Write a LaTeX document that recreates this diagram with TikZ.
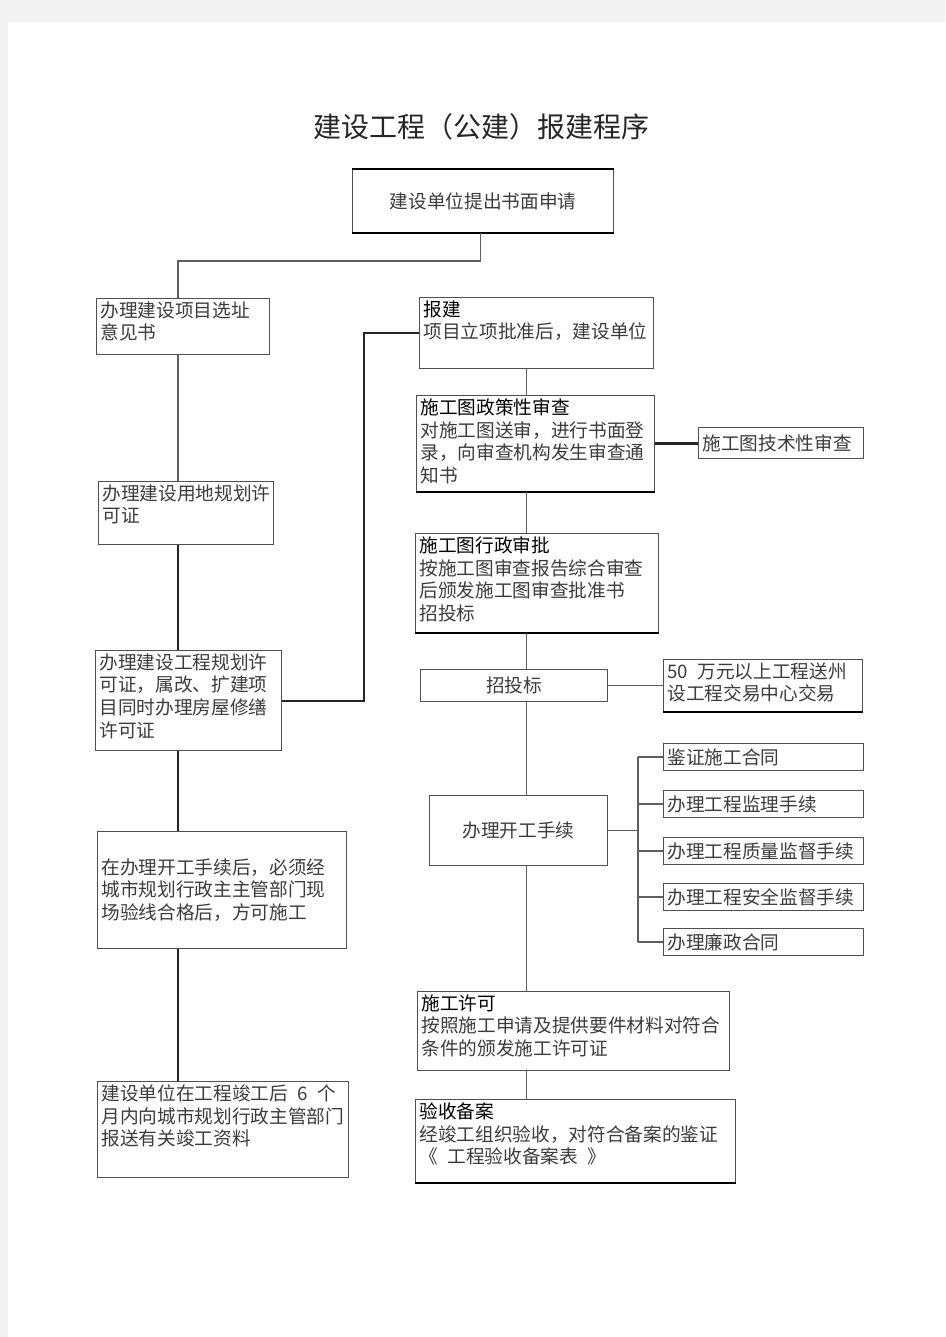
\documentclass[tikz,border=0pt]{standalone}
\usepackage{fontspec}
\setmainfont{Noto Sans CJK SC}
\usetikzlibrary{positioning,calc}
\definecolor{pagegrey}{RGB}{243,243,243}
\definecolor{rimgrey}{RGB}{80,80,80}
\definecolor{linkgrey}{RGB}{95,95,95}
\definecolor{bodygrey}{RGB}{60,60,60}
\newdimen\px \px=0.75pt
\newcommand{\cell}[3]{\parbox[c][\dimexpr#2\px-4.5pt\relax][t]{\dimexpr#1\px-6pt\relax}{\raggedright#3}}
\newcommand{\head}[1]{{\color{black}#1}\\}
\tikzset{
  ebox/.style={draw=rimgrey,line width=0.9pt,fill=white,anchor=north west,inner xsep=3pt,inner ysep=2.25pt,
    font=\fontsize{14pt}{17pt}\selectfont,text=bodygrey},
  cbox/.style 2 args={ebox,inner sep=0pt,minimum width=#1,minimum height=#2,align=center},
  lbox/.style 2 args={ebox,text width=#1,minimum height=#2,align=left},
  rim/.style={line width=1.6pt,draw=black},
  link/.style={line width=1.1pt,draw=linkgrey},
  heavy/.style={line width=1.9pt,draw=black!85},
  titlef/.style={font=\fontsize{21pt}{24pt}\selectfont,text=black!85}
}
\begin{document}
\begin{tikzpicture}[x=0.75pt,y=-0.75pt]
  \useasboundingbox (0,0) rectangle (945,1337);
  \fill[pagegrey] (0,0) rectangle (945,1337);
  \fill[white] (8,22) rectangle (945,1337);
  \node[titlef] (title) at (481,127) {建设工程（公建）报建程序};

  \node[cbox={195.75pt}{47.25pt}] (A) at (352,169) {建设单位提出书面申请};
  \node[ebox] (B) at (96,298) {\cell{173}{56}{办理建设项目选址\\意见书}};
  \node[ebox] (C) at (98,481) {\cell{175}{63}{办理建设用地规划许\\可证}};
  \node[ebox] (D) at (95,650) {\cell{186}{100}{办理建设工程规划许\\可证，属改、扩建项\\目同时办理房屋修缮\\许可证}};
  \node[lbox={180.75pt}{87.75pt}] (N) at (97,831) {在办理开工手续后，必须经\\城市规划行政主主管部门现\\场验线合格后，方可施工};
  \node[ebox] (O) at (97,1081) {\cell{251}{96}{建设单位在工程竣工后\enspace 6\enspace{}个\\月内向城市规划行政主管部门\\报送有关竣工资料}};

  \node[ebox] (E) at (419,297) {\cell{234}{71}{\head{报建}项目立项批准后，建设单位}};
  \node[ebox] (F) at (416,395) {\cell{238}{96}{\head{施工图政策性审查}对施工图送审，进行书面登\\录，向审查机构发生审查通\\知书}};
  \node[lbox={117.75pt}{23.25pt}] (G) at (698,427) {施工图技术性审查};
  \node[ebox] (H) at (415,533) {\cell{243}{99}{\head{施工图行政审批}按施工图审查报告综合审查\\后颁发施工图审查批准书\\招投标}};
  \node[cbox={140.25pt}{24pt}] (I) at (420,669) {招投标};
  \node[ebox] (J) at (663,659) {\cell{199}{52}{50\enspace{}万元以上工程送州\\设工程交易中心交易}};
  \node[cbox={133.5pt}{52.5pt}] (K) at (429,795) {办理开工手续};
  \node[lbox={144pt}{20.25pt}] (P1) at (663,743) {鉴证施工合同};
  \node[lbox={144pt}{20.25pt}] (P2) at (663,790) {办理工程监理手续};
  \node[lbox={144pt}{20.25pt}] (P3) at (663,837) {办理工程质量监督手续};
  \node[lbox={144pt}{20.25pt}] (P4) at (663,883) {办理工程安全监督手续};
  \node[lbox={144pt}{20.25pt}] (P5) at (663,928) {办理廉政合同};
  \node[ebox] (L) at (417,991) {\cell{312}{79}{\head{施工许可}按照施工申请及提供要件材料对符合\\条件的颁发施工许可证}};
  \node[ebox] (M) at (415,1099) {\cell{320}{83}{\head{验收备案}经竣工组织验收，对符合备案的鉴证\\《\enspace{}工程验收备案表\enspace{}》}};

  \draw[rim] (A.north west) -- (A.north east);
  \draw[rim] (A.south west) -- (A.south east);
  \draw[rim] (F.south west) -- (F.south east);
  \draw[rim] (H.south west) -- (H.south east);
  \draw[rim] (J.south west) -- (J.south east);
  \draw[rim] (M.south west) -- (M.south east);

  \coordinate (lx) at (178,0);
  \coordinate (rx) at (526.5,0);
  \coordinate (mx) at (364,0);
  \coordinate (bx) at (638,0);
  \coordinate (jy) at (0,261);

  \draw[link] ([xshift=-2pt]A.south) -- ([xshift=-2pt]A.south |- jy) -| (B.north -| lx);
  \draw[link] (B.south -| lx) -- (C.north -| lx);
  \draw[heavy] (C.south -| lx) -- (D.north -| lx);
  \draw[heavy] (D.south -| lx) -- (N.north -| lx);
  \draw[heavy] (N.south -| lx) -- (O.north -| lx);
  \draw[link,line width=1.5pt,draw=black!85] (D.east) -- (D.east -| mx) |- (E.west);

  \draw[link] (E.south -| rx) -- (F.north -| rx);
  \draw[heavy] (F.east) -- (F.east -| G.west);
  \draw[link] (F.south -| rx) -- (H.north -| rx);
  \draw[link] (H.south -| rx) -- (I.north -| rx);
  \draw[link] (I.east) -- (I.east -| J.west);
  \draw[link] (I.south -| rx) -- (K.north -| rx);
  \draw[link] (K.east) -- (K.east -| bx);
  \draw[link] (bx |- P1.west) -- (bx |- P5.west);
  \foreach \k in {1,...,5}
    \draw[link] (bx |- P\k.west) -- (P\k.west);
  \draw[link] (K.south -| rx) -- (L.north -| rx);
  \draw[link] (L.south -| rx) -- (M.north -| rx);
\end{tikzpicture}
\end{document}
